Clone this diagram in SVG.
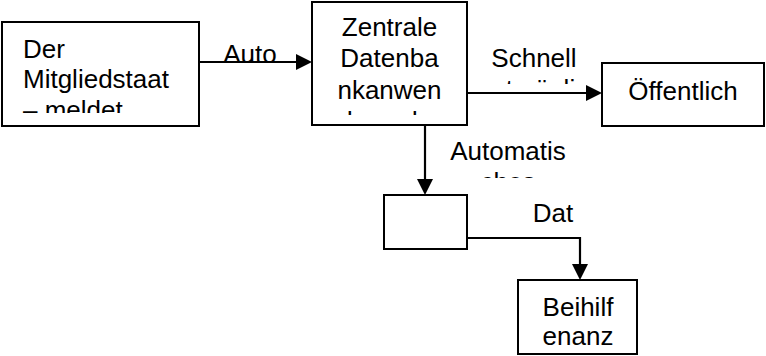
<svg xmlns="http://www.w3.org/2000/svg" width="766" height="356" viewBox="0 0 766 356">
<style>
.box{fill:#fff;stroke:#000;stroke-width:2}
.t{font-family:"Liberation Sans",Arial,sans-serif;font-size:26px;fill:#000}
.c{text-anchor:middle}
.ln{fill:none;stroke:#000;stroke-width:2.2}
.ah{fill:#000;stroke:none}
</style>
<defs>
<clipPath id="cp1"><rect x="3" y="23" width="195" height="90"/></clipPath>
<clipPath id="cp2"><rect x="313" y="3" width="153" height="112"/></clipPath>
<clipPath id="cpS"><rect x="470" y="40" width="130" height="44"/></clipPath>
<clipPath id="cpA"><rect x="435" y="130" width="150" height="48"/></clipPath>
</defs>
<g id="labels">
<text class="t c" x="250" y="63">Auto</text>
<g clip-path="url(#cpS)"><text class="t c" x="534" y="67">Schnell</text><text class="t c" x="534" y="98">stmögli</text></g>
<g clip-path="url(#cpA)"><text class="t c" x="508" y="160">Automatis</text><text class="t c" x="508" y="191">ches</text></g>
<text class="t c" x="553" y="222">Dat</text>
</g>
<g id="connectors">
<line class="ln" x1="199" y1="62" x2="298" y2="62"/>
<polygon class="ah" points="296,54 312,62 296,70"/>
<line class="ln" x1="467" y1="93" x2="588" y2="93"/>
<polygon class="ah" points="586,85 602,93 586,101"/>
<line class="ln" x1="425" y1="125" x2="425" y2="181"/>
<polygon class="ah" points="417,179 425,195 433,179"/>
<polyline class="ln" points="467,238 580,238 580,266"/>
<polygon class="ah" points="572,264 580,280 588,264"/>
</g>
<g id="n1">
<rect class="box" x="2" y="22" width="197" height="104"/>
<g clip-path="url(#cp1)"><text class="t" x="23" y="58">Der</text><text class="t" x="23" y="88">Mitgliedstaat</text><text class="t" x="23" y="119">– meldet</text></g>
</g>
<g id="n2">
<rect class="box" x="312" y="2" width="155" height="123"/>
<g clip-path="url(#cp2)"><text class="t c" x="389.5" y="36">Zentrale</text><text class="t c" x="389.5" y="67">Datenba</text><text class="t c" x="389.5" y="99">nkanwen</text><text class="t c" x="389.5" y="130">dung der</text></g>
</g>
<g id="n3">
<rect class="box" x="602" y="63" width="162" height="63"/>
<text class="t c" x="683" y="100">Öffentlich</text>
</g>
<g id="n4">
<rect class="box" x="384" y="195" width="83" height="54"/>
</g>
<g id="n5">
<rect class="box" x="518" y="280" width="119" height="74"/>
<text class="t c" x="578" y="316">Beihilf</text>
<text class="t c" x="578" y="345">enanz</text>
</g>
</svg>
